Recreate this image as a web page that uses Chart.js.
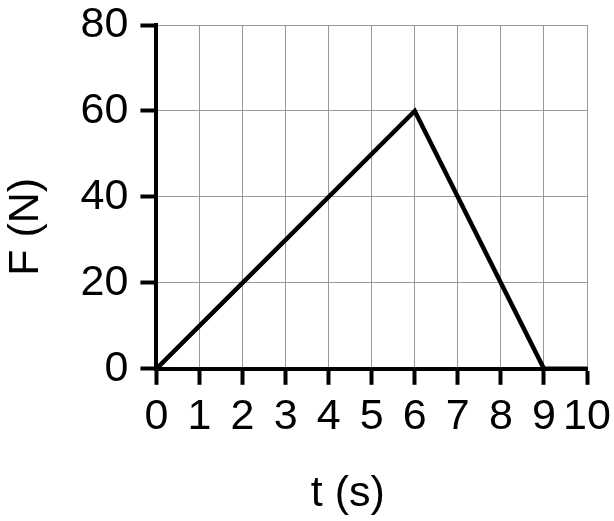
<!DOCTYPE html>
<html>
<head>
<meta charset="utf-8">
<script src="https://cdn.jsdelivr.net/npm/chart.js@4.4.0/dist/chart.umd.min.js"></script>
<style>
html,body{margin:0;padding:0;background:#fff;}
#wrap{width:614px;height:521px;}
</style>
</head>
<body>
<div id="wrap"><canvas id="c" width="614" height="521"></canvas></div>
<script>
const timeValues = [0, 6, 9, 10];
const forceValues = [0, 60, 0, 0];
const xTitle = 't (s)';
const yTitle = 'F (N)';
const xTicks = [0, 10, 1];
const yTicks = [0, 80, 20];

const points = timeValues.map((t, i) => ({x: t, y: forceValues[i]}));
const FONT = "'Liberation Sans', Arial, sans-serif";

new Chart(document.getElementById('c'), {
  type: 'scatter',
  data: {
    datasets: [{
      data: points,
      showLine: true,
      borderColor: '#000',
      borderWidth: 4.5,
      borderJoinStyle: 'miter',
      pointRadius: 0,
      fill: false,
      tension: 0
    }]
  },
  options: {
    responsive: false,
    animation: false,
    devicePixelRatio: 1,
    layout: {padding: {left: 0, right: 27, top: 25, bottom: 1}},
    plugins: {legend: {display: false}, tooltip: {enabled: false}},
    scales: {
      x: {
        type: 'linear',
        min: xTicks[0], max: xTicks[1],
        afterFit: s => { s.paddingRight = 0; s.paddingLeft = 0; },
        ticks: {stepSize: xTicks[2], color: '#000', font: {family: FONT, size: 43}, padding: 7, maxRotation: 0, autoSkip: false},
        grid: {color: '#999999', lineWidth: 1, tickColor: '#000', tickWidth: 4, tickLength: 16},
        border: {color: '#000', width: 4},
        title: {display: true, text: xTitle + '    ', color: '#000', font: {family: FONT, size: 43}, padding: {top: 18, bottom: 0}}
      },
      y: {
        min: yTicks[0], max: yTicks[1],
        afterFit: s => { s.paddingTop = 0; s.paddingBottom = 0; },
        ticks: {stepSize: yTicks[2], color: '#000', font: {family: FONT, size: 43}, padding: 12},
        grid: {color: '#999999', lineWidth: 1, tickColor: '#000', tickWidth: 4, tickLength: 16},
        border: {color: '#000', width: 4},
        title: {display: true, text: yTitle + '     ', color: '#000', font: {family: FONT, size: 43}, padding: {top: 0, bottom: 17}}
      }
    }
  }
});
</script>
</body>
</html>
